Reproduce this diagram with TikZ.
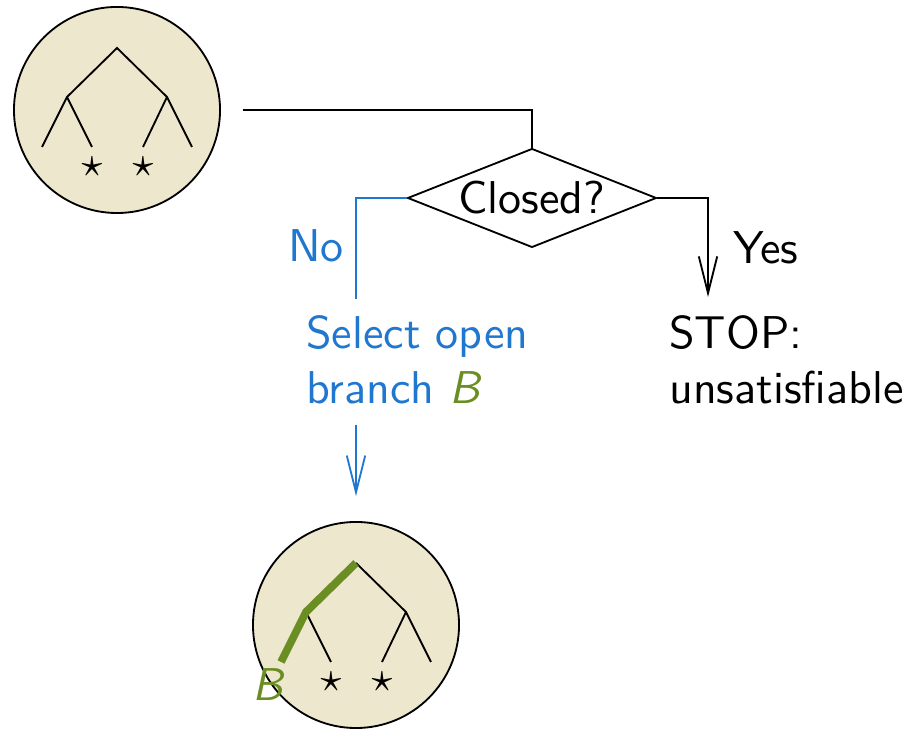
\documentclass[tikz,border=0pt]{standalone}
\usepackage{tikz}
\usetikzlibrary{arrows.meta,positioning,calc,shapes.geometric}
\definecolor{TreeBeige}{RGB}{237,231,205}
\definecolor{BranchGreen}{RGB}{107,142,35}
\definecolor{NoBlue}{RGB}{31,119,207}

\begin{document}
\begin{tikzpicture}[
  x=0.2174pt,y=-0.2174pt,
  every node/.style={font=\sffamily},
  tableau/.style={circle,draw,fill=TreeBeige,minimum size=44.8pt,inner sep=0pt},
  decision/.style={diamond,draw,aspect=2.5,inner sep=0pt,minimum width=54.1pt,minimum height=21.5pt},
  label/.style={align=left,inner sep=3.33pt},
  tip/.style={-{Straight Barb[length=8pt,width=4pt]}},
  noline/.style={draw=NoBlue},
  branch/.style={draw=BranchGreen,line width=1.7pt},
  leaf/.style={inner sep=0pt,font=\small}
]
\useasboundingbox (0,0) rectangle (913,730);
\node[tableau] (top) at (117,110) {};
\node[decision] (dec) at (532,198) {Closed?};
\node[label,anchor=north west,text=NoBlue] (sel) at (290,299) {Select open\\branch {\color{BranchGreen}\itshape B}};
\node[label,anchor=north west] (stop) at (653,299) {STOP:\\unsatisfiable};
\node[tableau] (bot) at (356,625) {};
\coordinate (yesend) at (708,297);
\node[anchor=east,text=NoBlue] (no) at (360,246) {No};
\node[anchor=west] (yes) at (717,248) {Yes};
% closed tableau
\begin{scope}[shift={(top.center)}]
  \draw (-75,37) -- (-50,-13) -- (0,-62) -- (50,-13) -- (75,37);
  \draw (-50,-13) -- (-25,37);
  \draw (50,-13) -- (26,37);
  \node[leaf] (ta) at (-25,57) {$\star$};
  \node[leaf] (tb) at (26,57) {$\star$};
\end{scope}
% tableau with selected branch
\begin{scope}[shift={(bot.center)}]
  \draw (-50,-13) -- (-25,37);
  \draw (0,-62) -- (50,-13) -- (75,37);
  \draw (50,-13) -- (26,37);
  \draw[branch] (0,-62) -- (-50,-13) -- (-75,37);
  \node[leaf] (ba) at (-25,57) {$\star$};
  \node[leaf] (bb) at (26,57) {$\star$};
  \node[text=BranchGreen,inner sep=0pt] (bl) at (-88,60) {\itshape B};
\end{scope}
\draw[shorten <=4.8pt] (top.east) -| (dec.north);
\draw[noline] (dec.west) -| (sel.north -| bot);
\draw[noline,tip,shorten <=1pt,shorten >=5.4pt] (sel.south -| bot) -- (bot.north);
\draw[tip] (dec.east) -| (yesend);
\end{tikzpicture}
\end{document}
